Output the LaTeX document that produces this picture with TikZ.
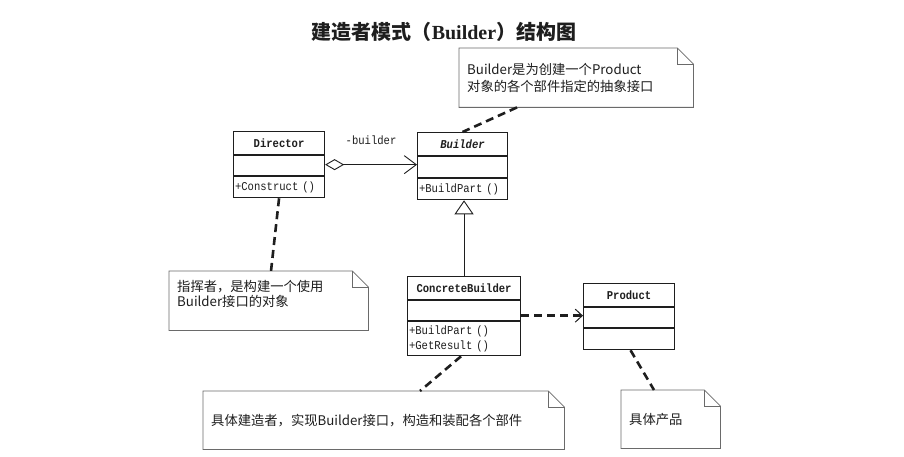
\documentclass[tikz,border=0pt]{standalone}
\usepackage{fontspec}
\setmainfont[FakeStretch=0.88]{Liberation Mono}
\newfontfamily\cjk{Noto Sans CJK SC}
\newfontfamily\serifb{Liberation Serif}
\usetikzlibrary{arrows.meta,calc}
\definecolor{ink}{HTML}{1E1E1E}
\definecolor{noteln}{HTML}{6A6A6A}
\newcommand\foldnote[1]{%
  \draw[noteline] (#1.north west) -- ([xshift=-16pt]#1.north east) -- ([yshift=-16pt]#1.north east) -- (#1.south east) -- (#1.south west) -- cycle;
  \draw[noteline] ([xshift=-16pt]#1.north east) |- ([yshift=-16pt]#1.north east);}
\begin{document}
\begin{tikzpicture}[x=1pt,y=-1pt,
  every node/.style={text=ink},
  clsbox/.style={draw=ink, line width=1.1pt, minimum width=#1, inner sep=1.5pt, font=\fontsize{12}{14}\selectfont},
  clsname/.style={clsbox=#1, font=\fontsize{12}{14}\selectfont\bfseries},
  clsops/.style={draw=ink, line width=1.1pt, text width=#1, inner xsep=1.5pt, inner ysep=1pt, align=left, font=\fontsize{12}{14.5}\selectfont},
  notebox/.style={inner xsep=8pt, inner ysep=0pt, align=left, anchor=north west, font=\cjk\fontsize{13.3}{#1}\selectfont},
  noteline/.style={draw=noteln, line width=0.8pt},
  notelink/.style={draw=ink, line width=2.6pt, dash pattern=on 8pt off 5pt},
  agg/.style={draw=ink, line width=0.9pt, {Diamond[open,length=19pt,width=11pt]}-{Straight Barb[length=12pt,width=18pt]}},
  gen/.style={draw=ink, line width=0.9pt, -{Triangle[open,length=14pt,width=19pt]}},
  dep/.style={draw=ink, line width=2.6pt, dash pattern=on 8pt off 5pt, -{Straight Barb[length=7pt,width=13pt,line width=1pt]}}
]
\useasboundingbox (0,0) rectangle (904,457);
\fill[white] (0,0) rectangle (904,457);

% title
\node (title) at (444,32) {\cjk\bfseries\fontsize{20}{24}\selectfont 建造者模式（{\serifb\bfseries Builder}）结构图};

% Director
\node[clsname=91pt, minimum height=23pt, anchor=north west] (dirN) at (233,131) {Director};
\node[clsbox=91pt, minimum height=20pt, anchor=north] (dirA) at (dirN.south) {};
\node[clsops=88pt, minimum height=21pt, anchor=north] (dirO) at (dirA.south) {+Construct ()};

% Builder
\node[clsbox=90pt, minimum height=23pt, anchor=north west, font=\fontsize{12}{14}\selectfont\bfseries\itshape] (bldN) at (417,132) {Builder};
\node[clsbox=90pt, minimum height=21pt, anchor=north] (bldA) at (bldN.south) {};
\node[clsops=87pt, minimum height=21pt, anchor=north] (bldO) at (bldA.south) {+BuildPart ()};

% ConcreteBuilder
\node[clsname=113pt, minimum height=23pt, anchor=north west] (cbN) at (407,276) {ConcreteBuilder};
\node[clsbox=113pt, minimum height=20pt, anchor=north] (cbA) at (cbN.south) {};
\node[clsops=110pt, minimum height=34pt, anchor=north] (cbO) at (cbA.south) {+BuildPart ()\\+GetResult ()};

% Product
\node[clsname=91pt, minimum height=23pt, anchor=north west] (prN) at (583,283) {Product};
\node[clsbox=91pt, minimum height=20pt, anchor=north] (prA) at (prN.south) {};
\node[clsbox=91pt, minimum height=21pt, anchor=north] (prO) at (prA.south) {};

% notes
\node[notebox=17, minimum width=234pt, minimum height=59pt, text width=218pt] (nBld) at (459,48) {Builder是为创建一个Product\\对象的各个部件指定的抽象接口};
\foldnote{nBld}
\node[notebox=15, minimum width=199pt, minimum height=59pt, text width=183pt] (nDir) at (169,271) {指挥者，是构建一个使用\\Builder接口的对象\\\mbox{}};
\foldnote{nDir}
\node[notebox=17, minimum width=361pt, minimum height=58pt, text width=345pt] (nCb) at (203,391) {具体建造者，实现Builder接口，构造和装配各个部件};
\foldnote{nCb}
\node[notebox=17, minimum width=99pt, minimum height=58pt, text width=83pt] (nPr) at (621,390) {具体产品};
\foldnote{nPr}

% connectors
\draw[agg] ([yshift=1pt]dirA.east) -- ([yshift=1pt]dirA.east -| bldA.west)
  node[midway, yshift=24pt, font=\fontsize{12}{14}\selectfont] (lblB) {-builder};
\draw[gen] (cbN.north) -- (cbN.north |- bldO.south);
\draw[dep] ([yshift=-5pt]cbA.east) -- ([yshift=-5pt]cbA.east -| prA.west);

\draw[notelink] ([xshift=58pt]nBld.south west) -- (bldN.north);
\draw[notelink] (dirO.south) -- ([xshift=102pt]nDir.north west);
\draw[notelink] ([xshift=-3pt]cbO.south) -- ([xshift=217pt]nCb.north west);
\draw[notelink] ([xshift=1.5pt]prO.south) -- ([xshift=33pt]nPr.north west);
\end{tikzpicture}
\end{document}
